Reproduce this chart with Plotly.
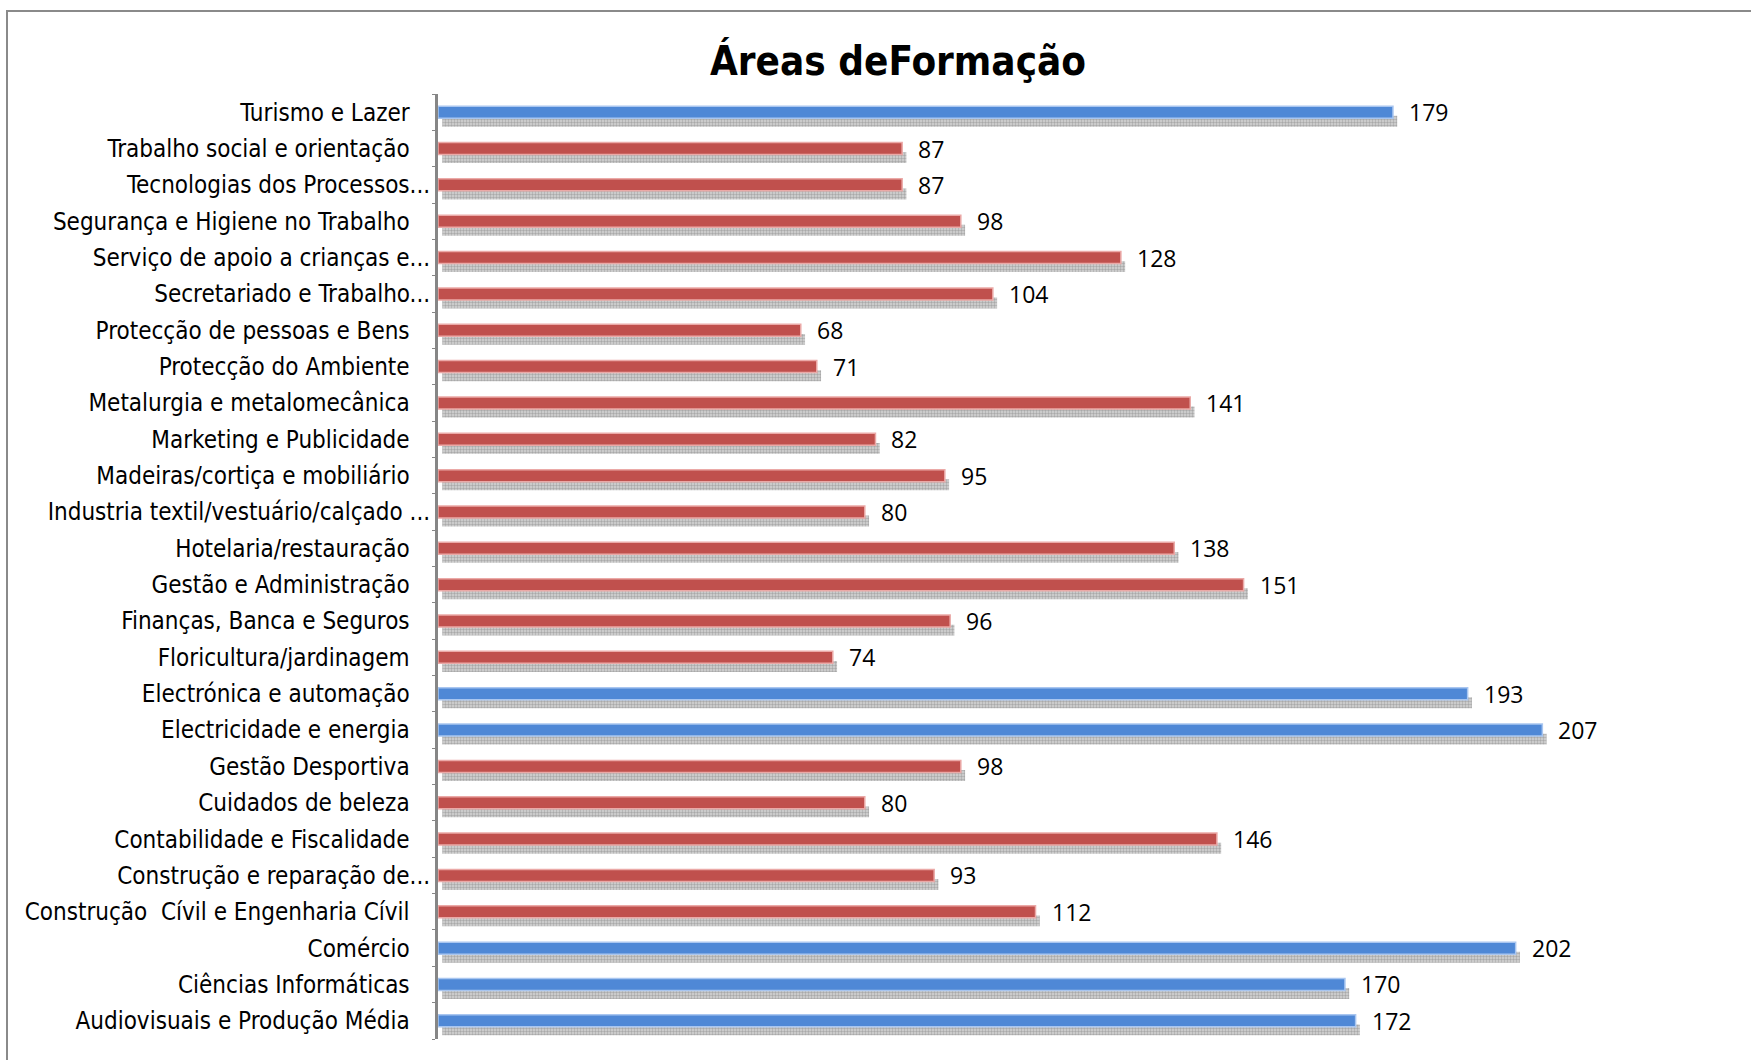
import plotly.graph_objects as go

# Categories listed bottom-to-top (as in the original chart)
categories = [
    "Audiovisuais e Produção Média",
    "Ciências Informáticas",
    "Comércio",
    "Construção  Cívil e Engenharia Cívil",
    "Construção e reparação de...",
    "Contabilidade e Fiscalidade",
    "Cuidados de beleza",
    "Gestão Desportiva",
    "Electricidade e energia",
    "Electrónica e automação",
    "Floricultura/jardinagem",
    "Finanças, Banca e Seguros",
    "Gestão e Administração",
    "Hotelaria/restauração",
    "Industria textil/vestuário/calçado ...",
    "Madeiras/cortiça e mobiliário",
    "Marketing e Publicidade",
    "Metalurgia e metalomecânica",
    "Protecção do Ambiente",
    "Protecção de pessoas e Bens",
    "Secretariado e Trabalho...",
    "Serviço de apoio a crianças e...",
    "Segurança e Higiene no Trabalho",
    "Tecnologias dos Processos...",
    "Trabalho social e orientação",
    "Turismo e Lazer",
]
values = [172, 170, 202, 112, 93, 146, 80, 98, 207, 193, 74, 96, 151, 138,
          80, 95, 82, 141, 71, 68, 104, 128, 98, 87, 87, 179]
highlight = [True, True, True, False, False, False, False, False, True, True,
             False, False, False, False, False, False, False, False, False,
             False, False, False, False, False, False, True]

BLUE = "#4F88D6"
BLUE_EDGE = "#A9C6F0"
RED = "#C0504D"
RED_EDGE = "#EBA9A7"

bar_colors = [BLUE if h else RED for h in highlight]
edge_colors = [BLUE_EDGE if h else RED_EDGE for h in highlight]

# tick labels: non-truncated labels carry trailing spaces (as in the source)
ticktext = [c if c.endswith("...") else c + "\u00a0\u00a0\u00a0" for c in categories]

LABEL_FONT = "Liberation Sans Narrow, Arial Narrow, DejaVu Sans Condensed, sans-serif"

fig = go.Figure()

# shadow
fig.add_trace(go.Bar(
    y=categories, x=values, base=0.8, orientation="h",
    width=0.30, offset=-0.40,
    marker=dict(color="#d0d0d0", line=dict(width=0),
                pattern=dict(shape=".", fgcolor="#7c7c7c", bgcolor="#d6d6d6",
                             size=3, solidity=0.5)),
    hoverinfo="skip", showlegend=False,
))
# main bars
fig.add_trace(go.Bar(
    y=categories, x=values, orientation="h",
    width=0.33, offset=-0.165,
    marker=dict(color=bar_colors, line=dict(color=edge_colors, width=1.5)),
    showlegend=False,
))

for c, v in zip(categories, values):
    fig.add_annotation(x=v, y=c, text=str(v), showarrow=False,
                       xanchor="left", yanchor="middle", xshift=14, yshift=0,
                       font=dict(family="Open Sans, Noto Sans, sans-serif", size=23, color="#000"))

W, H = 1751, 1060
L, R, T, B = 438, 51, 94, 21
pw = W - L - R
ph = H - T - B

fig.update_layout(
    width=W, height=H,
    margin=dict(l=L, r=R, t=T, b=B, autoexpand=False),
    paper_bgcolor="white", plot_bgcolor="white",
    barmode="overlay",
    title=dict(text="<b>Áreas deFormação</b>", x=898 / W, xref="container", xanchor="center",
               y=1 - 61 / H, yref="container", yanchor="middle",
               font=dict(family=LABEL_FONT, size=40, color="#000")),
    xaxis=dict(range=[0, pw / 5.335], showgrid=False, zeroline=False,
               showticklabels=False, showline=False, ticks=""),
    yaxis=dict(type="category", tickvals=categories, ticktext=ticktext,
               showgrid=False, zeroline=False,
               showline=True, linecolor="#868686", linewidth=3,
               ticks="outside", tickson="boundaries", ticklen=3, tickcolor="#868686",
               ticklabelstandoff=0,
               tickfont=dict(family=LABEL_FONT, size=24, color="#000")),
    shapes=[dict(type="rect", xref="paper", yref="paper",
                 x0=(7 - L) / pw, x1=(W + 20 - L) / pw,
                 y0=-(B + 20) / ph, y1=1 + (T - 11) / ph,
                 line=dict(color="#8a8a8a", width=2), fillcolor="rgba(0,0,0,0)", layer="below")],
)

fig.write_html("out.html", config={"displayModeBar": False},
               post_script="document.body.style.margin='0';")
